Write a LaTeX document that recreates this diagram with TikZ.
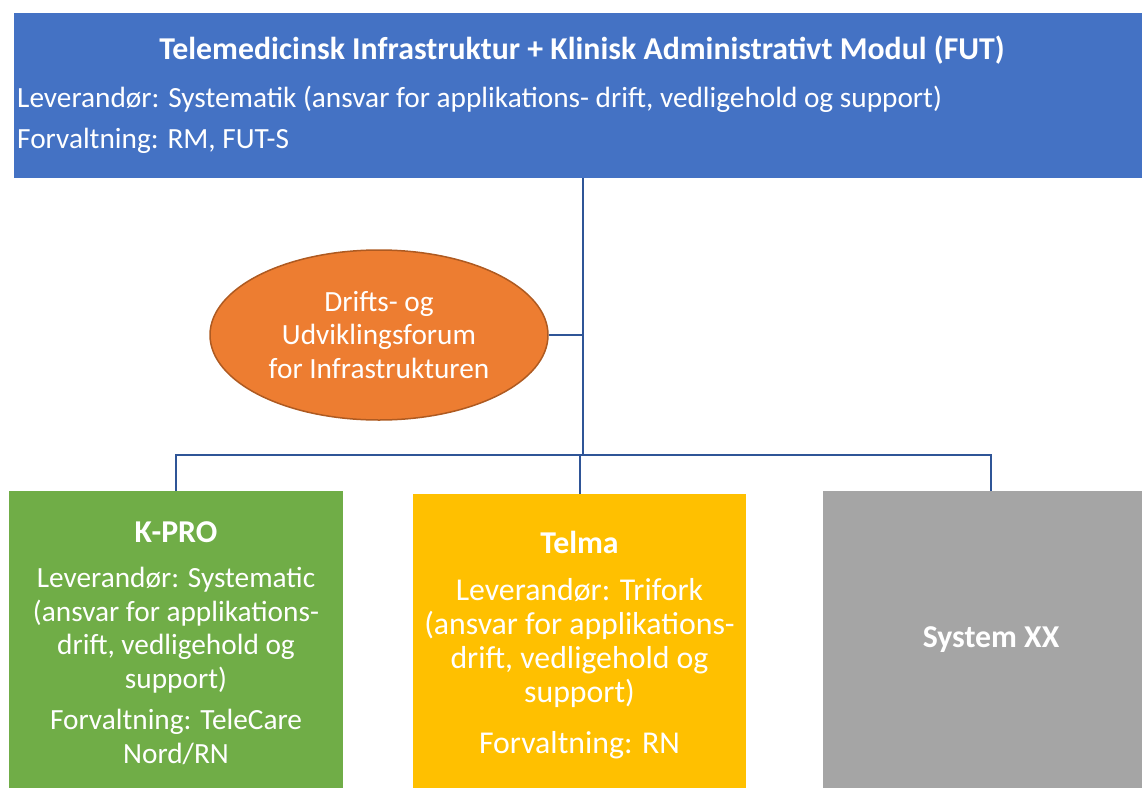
\documentclass[tikz,border=0pt]{standalone}
\usepackage{fontspec}
\setmainfont{Carlito}
\usetikzlibrary{shapes.geometric}
\definecolor{futblue}{HTML}{4472C4}
\definecolor{connblue}{HTML}{2F5597}
\definecolor{forumorange}{HTML}{ED7D31}
\definecolor{forumborder}{HTML}{AE5A21}
\definecolor{kprogreen}{HTML}{70AD47}
\definecolor{telmayellow}{HTML}{FFC000}
\definecolor{sysgray}{HTML}{A5A5A5}
\tikzset{
  box/.style={rectangle, inner sep=0pt, draw=none},
  txt/.style={text=white, inner sep=0pt, align=center, font=\fontsize{29.3}{33.5}\selectfont},
  txtbig/.style={text=white, inner sep=0pt, align=center, font=\fontsize{31.8}{34.3}\selectfont},
  ttl/.style={text=white, inner sep=0pt, align=center, font=\bfseries\fontsize{31.8}{36}\selectfont},
  txtl/.style={text=white, inner sep=0pt, anchor=west, font=\fontsize{29.3}{33.5}\selectfont},
  conn/.style={draw=connblue, line width=2pt}
}
\begin{document}
\begin{tikzpicture}[x=1pt,y=-1pt]
\useasboundingbox (0,0) rectangle (1142,787);
% boxes
\node[box, fill=futblue, minimum width=1136pt, minimum height=165pt] (fut) at (582,95.5) {};
\node[box, fill=kprogreen, minimum width=334pt, minimum height=310pt] (kpro) at (176,646) {};
\node[box, fill=telmayellow, minimum width=333pt, minimum height=310pt] (telma) at (579.5,649) {};
\node[box, fill=sysgray, minimum width=336pt, minimum height=310pt] (sys) at (991,646) {};
\node[ellipse, fill=forumorange, draw=forumborder, line width=1.5pt, minimum width=338pt, minimum height=170pt, inner sep=0pt] (forum) at (379,335) {};
% texts
\node[ttl] (futtitle) at (582,50) {Telemedicinsk Infrastruktur + Klinisk Administrativt Modul (FUT)};
\node[txtl] (futlev) at (17,99) {Leverandør: Systematik (ansvar for applikations- drift, vedligehold og support)};
\node[txtl] (futforv) at (17,141) {Forvaltning: RM, FUT-S};
\node[txt] (forumtxt) at (379,335) {Drifts- og\\Udviklingsforum\\for Infrastrukturen};
\node[ttl] (kprotitle) at (176,532) {K-PRO};
\node[txt] (kprolev) at (176,630) {Leverandør: Systematic\\(ansvar for applikations-\\drift, vedligehold og\\support)};
\node[txt] (kproforv) at (176,737) {Forvaltning: TeleCare\\Nord/RN};
\node[ttl] (telmatitle) at (579.5,542) {Telma};
\node[txtbig] (telmalev) at (579.5,643) {Leverandør: Trifork\\(ansvar for applikations-\\drift, vedligehold og\\support)};
\node[txtbig] (telmaforv) at (579.5,745) {Forvaltning: RN};
\node[ttl] (systitle) at (991,640) {System XX};
% connectors
\coordinate (hub) at (583,455);
\draw[conn] (fut.south -| hub) -- (hub);
\draw[conn] (forum.east) -- (forum.east -| hub);
\draw[conn] (kpro.north) -- (kpro.north |- hub) -- (sys.north |- hub) -- (sys.north);
\draw[conn] (telma.north) -- (telma.north |- hub);
\end{tikzpicture}
\end{document}
